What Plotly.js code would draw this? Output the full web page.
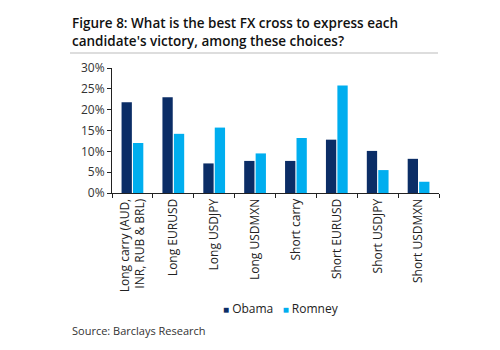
<!DOCTYPE html>
<html>
<head>
<meta charset="utf-8">
<script src="https://cdn.plot.ly/plotly-3.0.1.min.js"></script>
<style>html,body{margin:0;padding:0;background:#fff;}#chart{width:500px;height:350px;}</style>
</head>
<body>
<div id="chart"></div>
<script>
var categories = ["Long carry (AUD,<br>INR, RUB & BRL)", "Long EURUSD", "Long USDJPY", "Long USDMXN", "Short carry", "Short EURUSD", "Short USDJPY", "Short USDMXN"];
var obama = [21.8, 23.0, 7.1, 7.7, 7.7, 12.8, 10.1, 8.2];
var romney = [12.0, 14.2, 15.7, 9.5, 13.2, 25.8, 5.5, 2.7];
var yTicks = [0, 5, 10, 15, 20, 25, 30];
var yTickText = ["0%", "5%", "10%", "15%", "20%", "25%", "30%"];
var seriesNames = ["Obama", "Romney"];
var seriesColors = ["#0b2d66", "#00aeef"];

var W = 500, H = 350, L = 112, R = 61, T = 68, B = 157;
var pw = W - L - R, ph = H - T - B;
function px(x) { return (x - L) / pw; }
function py(y) { return (H - B - y) / ph; }

var fontFam = "Open Sans, Noto Sans, sans-serif";
var data = [
  {type: "bar", name: seriesNames[0], x: categories, y: obama, marker: {color: seriesColors[0]}, showlegend: false},
  {type: "bar", name: seriesNames[1], x: categories, y: romney, marker: {color: seriesColors[1]}, showlegend: false}
];
var legendText = seriesNames.map(function (n, i) {
  return "<span style='color:" + seriesColors[i] + ";font-size:10px'>■</span> " + n;
}).join("   ");
var layout = {
  width: W, height: H,
  margin: {l: L, r: R, t: T, b: B, pad: 0},
  paper_bgcolor: "#fff", plot_bgcolor: "#fff",
  font: {family: fontFam, size: 12, color: "#333"},
  barmode: "group", bargap: 0.44, bargroupgap: 0.1,
  showlegend: false,
  xaxis: {showline: true, linecolor: "#222", linewidth: 1, ticks: "outside", ticklen: 4, tickcolor: "#222",
          tickson: "boundaries", tickangle: -90, showgrid: false, tickfont: {size: 12, color: "#222"}},
  yaxis: {range: [0, 30], tickmode: "array", tickvals: yTicks, ticktext: yTickText, showline: true, linecolor: "#222", linewidth: 1,
          ticks: "outside", ticklen: 4, tickcolor: "#222", showgrid: false, zeroline: false,
          tickfont: {size: 12, color: "#333"}},
  annotations: [
    {xref: "paper", yref: "paper", x: px(70), y: py(12), xanchor: "left", yanchor: "top", align: "left",
     showarrow: false, text: "Figure 8: What is the best FX cross to express each<br>candidate's victory, among these choices?",
     font: {size: 13.5, color: "#111", family: "Open Sans, sans-serif", weight: 600}},
    {xref: "paper", yref: "paper", x: px(221), y: py(308), xanchor: "left", yanchor: "middle",
     showarrow: false, text: legendText, font: {size: 12, color: "#222"}},
    {xref: "paper", yref: "paper", x: px(70), y: py(330), xanchor: "left", yanchor: "middle",
     showarrow: false, text: "Source: Barclays Research", font: {size: 11, color: "#333"}}
  ],
  shapes: [
    {type: "line", xref: "paper", yref: "paper", x0: px(70), x1: px(438), y0: py(53), y1: py(53),
     line: {color: "#bbb", width: 1}}
  ]
};
Plotly.newPlot("chart", data, layout, {displayModeBar: false, staticPlot: true});
</script>
</body>
</html>
